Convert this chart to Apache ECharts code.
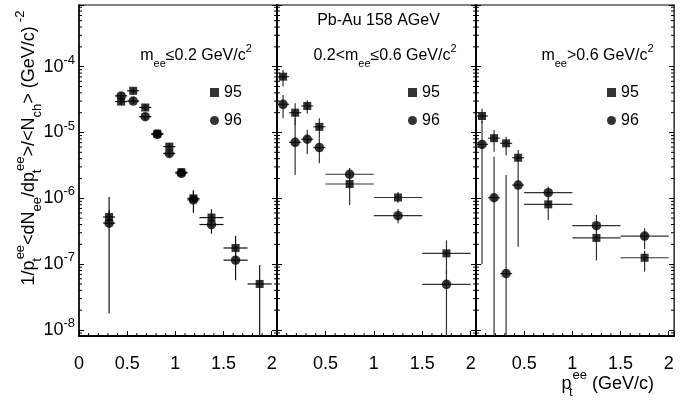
<!DOCTYPE html>
<html><head><meta charset="utf-8">
<script src="https://cdn.jsdelivr.net/npm/echarts@6/dist/echarts.min.js"></script>
<style>html,body{margin:0;padding:0;background:#fff}#c{width:699px;height:403px}</style>
</head><body><div id="c"></div>
<script>
const FONT = '"Liberation Sans", Arial, Helvetica, sans-serif';
const X_MAX = 2.055, Y_MIN = 8.1e-9, Y_MAX = 8.65e-4;
const xTickLabels = ['0', '0.5', '1', '1.5', '2'];
const minorMultipliers = [2, 3, 4, 5, 6, 7, 8, 9];
const decadeExponents = [-9, -8, -7, -6, -5, -4];
const xMinorSteps = [1,2,3,4,6,7,8,9,11,12,13,14,16,17,18,19];

// Panel 1: m_ee <= 0.2 GeV/c^2
const p1_x95  = [0.3125, 0.4375, 0.5625, 0.6875, 0.8125, 0.9375, 1.0625, 1.1875, 1.375, 1.625, 1.875];
const p1_xe95 = [0.0625, 0.0625, 0.0625, 0.0625, 0.0625, 0.0625, 0.0625, 0.0625, 0.125, 0.125, 0.125];
const p1_y95  = [5.2e-7, 2.95e-5, 4.3e-5, 2.4e-5, 9.6e-6, 6.1e-6, 2.5e-6, 1.0e-6, 5.1e-7, 1.76e-7, 5.0e-8];
const p1_lo95 = [4.0e-7, 2.6e-5, 3.8e-5, 2.1e-5, 8.6e-6, 5.4e-6, 2.2e-6, 8.0e-7, 4.2e-7, 1.2e-7, 5e-9];
const p1_hi95 = [6.6e-7, 3.3e-5, 4.8e-5, 2.7e-5, 1.07e-5, 6.9e-6, 2.8e-6, 1.3e-6, 6.8e-7, 2.7e-7, 9.7e-8];
const p1_x96  = [0.3125, 0.4375, 0.5625, 0.6875, 0.8125, 0.9375, 1.0625, 1.1875, 1.375, 1.625];
const p1_xe96 = [0.0625, 0.0625, 0.0625, 0.0625, 0.0625, 0.0625, 0.0625, 0.0625, 0.125, 0.125];
const p1_y96  = [4.2e-7, 3.6e-5, 3.0e-5, 1.74e-5, 9.4e-6, 4.8e-6, 2.4e-6, 9.5e-7, 4.0e-7, 1.15e-7];
const p1_lo96 = [1.8e-8, 3.2e-5, 2.7e-5, 1.55e-5, 8.4e-6, 4.2e-6, 2.1e-6, 6.0e-7, 2.9e-7, 5.7e-8];
const p1_hi96 = [1.05e-6, 4.0e-5, 3.4e-5, 1.95e-5, 1.05e-5, 5.4e-6, 2.7e-6, 1.33e-6, 5.0e-7, 1.6e-7];

// Panel 2: 0.2 < m_ee <= 0.6 GeV/c^2
const p2_x    = [0.0625, 0.1875, 0.3125, 0.4375, 0.75, 1.25, 1.75];
const p2_xe   = [0.0625, 0.0625, 0.0625, 0.0625, 0.25, 0.25, 0.25];
const p2_y95  = [7.05e-5, 2.0e-5, 2.53e-5, 1.22e-5, 1.65e-6, 1.03e-6, 1.46e-7];
const p2_lo95 = [5.0e-5, 1.3e-5, 1.95e-5, 8.2e-6, 7.9e-7, 8.5e-7, 7e-8];
const p2_hi95 = [8.9e-5, 2.78e-5, 3.1e-5, 1.64e-5, 2.1e-6, 1.25e-6, 2.3e-7];
const p2_y96  = [2.68e-5, 7.1e-6, 7.9e-6, 5.9e-6, 2.32e-6, 5.45e-7, 4.93e-8];
const p2_lo96 = [1.64e-5, 2.26e-6, 4.7e-6, 3.4e-6, 1.9e-6, 4.2e-7, 5e-9];
const p2_hi96 = [3.7e-5, 1.65e-5, 1.1e-5, 8.2e-6, 2.9e-6, 6.9e-7, 8e-8];

// Panel 3: m_ee > 0.6 GeV/c^2
const p3_x    = [0.0625, 0.1875, 0.3125, 0.4375, 0.75, 1.25, 1.75];
const p3_xe   = [0.0625, 0.0625, 0.0625, 0.0625, 0.25, 0.25, 0.25];
const p3_y95  = [1.78e-5, 8.2e-6, 6.85e-6, 4.14e-6, 8.1e-7, 2.5e-7, 1.25e-7];
const p3_lo95 = [1.4e-5, 5.1e-6, 4.5e-6, 3.0e-6, 4.7e-7, 1.14e-7, 7.7e-8];
const p3_hi95 = [2.3e-5, 1.09e-5, 8.6e-6, 5.4e-6, 1.0e-6, 3.2e-7, 1.6e-7];
const p3_y96  = [6.6e-6, 1.02e-6, 7.2e-8, 1.59e-6, 1.22e-6, 3.84e-7, 2.67e-7];
const p3_lo96 = [1.0e-7, 5e-9, 5e-9, 1.84e-7, 9.5e-7, 2.6e-7, 1.7e-7];
const p3_hi96 = [1.5e-5, 4.3e-6, 2.26e-6, 3.0e-6, 1.5e-6, 5.6e-7, 3.5e-7];

const panels = [
  { s95: [p1_x95, p1_xe95, p1_y95, p1_lo95, p1_hi95], s96: [p1_x96, p1_xe96, p1_y96, p1_lo96, p1_hi96], bar: '#111' },
  { s95: [p2_x, p2_xe, p2_y95, p2_lo95, p2_hi95], s96: [p2_x, p2_xe, p2_y96, p2_lo96, p2_hi96], bar: '#333' },
  { s95: [p3_x, p3_xe, p3_y95, p3_lo95, p3_hi95], s96: [p3_x, p3_xe, p3_y96, p3_lo96, p3_hi96], bar: '#333' }
];

const gridDefs = [
  { left: 79, top: 5, width: 198, height: 331 },
  { left: 277, top: 5, width: 199, height: 331 },
  { left: 476, top: 5, width: 198, height: 331 }
];

const yMinorTicks = [];
decadeExponents.forEach(e => minorMultipliers.forEach(m => {
  const v = m * Math.pow(10, e);
  if (v > Y_MIN && v < Y_MAX) yMinorTicks.push(v);
}));
const xMinorTicks = xMinorSteps.map(k => k / 10);

const supRich = {
  m: { fontSize: 16, lineHeight: 26, fontFamily: FONT, color: '#000' },
  sb: { fontSize: 11, lineHeight: 14, verticalAlign: 'bottom', fontFamily: FONT, color: '#000' },
  sp: { fontSize: 11, lineHeight: 14, verticalAlign: 'top', fontFamily: FONT, color: '#000' }
};
const bigRich = {
  m: { fontSize: 18, lineHeight: 30, fontFamily: FONT, color: '#000' },
  sb: { fontSize: 13, lineHeight: 15, verticalAlign: 'bottom', fontFamily: FONT, color: '#000' },
  tz: { fontSize: 13, lineHeight: 15, verticalAlign: 'bottom', width: 1, fontFamily: FONT, color: '#000' },
  sp: { fontSize: 13, lineHeight: 15, verticalAlign: 'top', fontFamily: FONT, color: '#000' },
  sp2: { fontSize: 13, lineHeight: 13, verticalAlign: 'top', fontFamily: FONT, color: '#000', padding: [0, 0, 0, 4] }
};

const xAxis = [], yAxis = [], series = [];
gridDefs.forEach((g, i) => {
  xAxis.push({
    type: 'value', gridIndex: i, min: 0, max: X_MAX, interval: 0.5,
    axisLine: { show: true, onZero: false, lineStyle: { color: '#000', width: 2 } },
    axisTick: { inside: true, length: 5, lineStyle: { color: '#000', width: 1 } },
    axisLabel: {
      margin: 19, fontSize: 18, fontFamily: FONT, color: '#000',
      formatter: v => {
        const k = Math.round(v * 2);
        if (Math.abs(v * 2 - k) > 1e-6) return '';
        if (i > 0 && k === 0) return '';
        return xTickLabels[k] || '';
      }
    },
    splitLine: { show: false }
  });
  yAxis.push({
    type: 'log', gridIndex: i, min: Y_MIN, max: Y_MAX, position: 'left',
    axisLine: { show: true, lineStyle: { color: '#000', width: 1.5 } },
    axisTick: { inside: true, length: 5, lineStyle: { color: '#000' } },
    axisLabel: i === 0 ? {
      margin: 4, fontFamily: FONT, color: '#000',
      formatter: v => {
        const l = Math.log10(v), e = Math.round(l);
        if (Math.abs(l - e) > 1e-6) return '';
        return '{b|10}{s|' + e + '}';
      },
      rich: {
        b: { fontSize: 18, lineHeight: 26, fontFamily: FONT, color: '#000' },
        s: { fontSize: 13, lineHeight: 14, verticalAlign: 'top', fontFamily: FONT, color: '#000' }
      }
    } : { show: false },
    splitLine: { show: false }
  });
  yAxis.push({
    type: 'log', gridIndex: i, min: Y_MIN, max: Y_MAX, position: 'right',
    axisLine: { show: true, lineStyle: { color: i < 2 ? '#000' : '#444', width: i < 2 ? 1.5 : 1 } },
    axisTick: { inside: true, length: 5, lineStyle: { color: '#000' } },
    axisLabel: { show: false },
    splitLine: { show: false }
  });

  // minor ticks
  series.push({
    type: 'custom', xAxisIndex: i, yAxisIndex: 2 * i, silent: true, z: 1,
    data: yMinorTicks.map(v => [0, v]),
    renderItem: (params, api) => {
      const v = api.value(1);
      const a = api.coord([0, v]), b = api.coord([X_MAX, v]);
      return { type: 'group', children: [
        { type: 'line', shape: { x1: a[0], y1: a[1], x2: a[0] + 3, y2: a[1] }, style: { stroke: '#000', lineWidth: 1 } },
        { type: 'line', shape: { x1: b[0] - 3, y1: b[1], x2: b[0], y2: b[1] }, style: { stroke: '#000', lineWidth: 1 } }
      ] };
    }
  });
  series.push({
    type: 'custom', xAxisIndex: i, yAxisIndex: 2 * i, silent: true, z: 1,
    data: xMinorTicks.map(v => [v, Y_MIN]),
    renderItem: (params, api) => {
      const a = api.coord([api.value(0), Y_MIN]);
      return { type: 'line', shape: { x1: a[0], y1: a[1], x2: a[0], y2: a[1] - 3 }, style: { stroke: '#000', lineWidth: 1 } };
    }
  });

  const p = panels[i];
  [['95', p.s95, 'rect', 8], ['96', p.s96, 'circle', 9.5]].forEach(([name, s, sym, size]) => {
    const [xs, xe, ys, lo, hi] = s;
    series.push({
      type: 'custom', xAxisIndex: i, yAxisIndex: 2 * i, silent: true, clip: true, z: 2,
      data: xs.map((x, k) => [x, ys[k], lo[k], hi[k], xe[k]]),
      encode: { x: 0, y: 1 },
      renderItem: (params, api) => {
        const x = api.value(0), y = api.value(1), l = api.value(2), h = api.value(3), e = api.value(4);
        const c = api.coord([x, y]), a = api.coord([x, l]), b = api.coord([x, h]);
        const L = api.coord([x - e, y]), R = api.coord([x + e, y]);
        return { type: 'group', children: [
          { type: 'line', shape: { x1: a[0], y1: a[1], x2: b[0], y2: b[1] }, style: { stroke: p.bar, lineWidth: 1.2 } },
          { type: 'line', shape: { x1: L[0], y1: c[1], x2: R[0], y2: c[1] }, style: { stroke: p.bar, lineWidth: 1.2 } }
        ] };
      }
    });
    series.push({
      type: 'scatter', name: name, xAxisIndex: i, yAxisIndex: 2 * i, z: 3,
      symbol: sym, symbolSize: size, itemStyle: { color: '#000' },
      data: xs.map((x, k) => [x, ys[k]])
    });
  });
});

const legendBase = {
  orient: 'vertical', top: 79, itemGap: 11, itemWidth: 9, itemHeight: 9, selectedMode: false,
  textStyle: { fontSize: 16, lineHeight: 17, fontFamily: FONT, color: '#000' },
  data: [{ name: '95', icon: 'rect' }, { name: '96', icon: 'circle' }]
};

const option = {
  animation: false,
  backgroundColor: '#fff',
  grid: gridDefs.map(g => Object.assign({ show: true, borderColor: '#555', borderWidth: 1.5, backgroundColor: 'transparent' }, g)),
  xAxis, yAxis, series,
  legend: [
    Object.assign({}, legendBase, { left: 205 }),
    Object.assign({}, legendBase, { left: 403 }),
    Object.assign({}, legendBase, { left: 602 })
  ],
  graphic: [
    { type: 'text', x: 378.5, y: 21, style: { text: 'Pb-Au 158 AGeV', font: '16px ' + FONT, fill: '#000', align: 'center', verticalAlign: 'middle' } },
    { type: 'text', x: 196, y: 56, style: { text: '{m|m}{sb|ee}{m|≤0.2 GeV/c}{sp|2}', rich: supRich, align: 'center', verticalAlign: 'middle' } },
    { type: 'text', x: 385, y: 56, style: { text: '{m|0.2<m}{sb|ee}{m|≤0.6 GeV/c}{sp|2}', rich: supRich, align: 'center', verticalAlign: 'middle' } },
    { type: 'text', x: 597.5, y: 56, style: { text: '{m|m}{sb|ee}{m|>0.6 GeV/c}{sp|2}', rich: supRich, align: 'center', verticalAlign: 'middle' } },
    { type: 'text', x: 654, y: 384, style: { text: '{m|p}{tz|t}{sp|ee}{m| (GeV/c)}', rich: bigRich, align: 'right', verticalAlign: 'middle' } },
    { type: 'text', x: 29, y: 148, rotation: Math.PI / 2, style: { text: '{m|1/p}{tz|t}{sp|ee}{m|<dN}{sb|ee}{m|/dp}{tz|t}{sp|ee}{m|>/<N}{sb|ch}{m|> (GeV/c)}{sp2|-2}', rich: bigRich, align: 'center', verticalAlign: 'middle' } }
  ]
};

const chart = echarts.init(document.getElementById('c'), null, { renderer: 'canvas' });
chart.setOption(option);
</script>
</body></html>
